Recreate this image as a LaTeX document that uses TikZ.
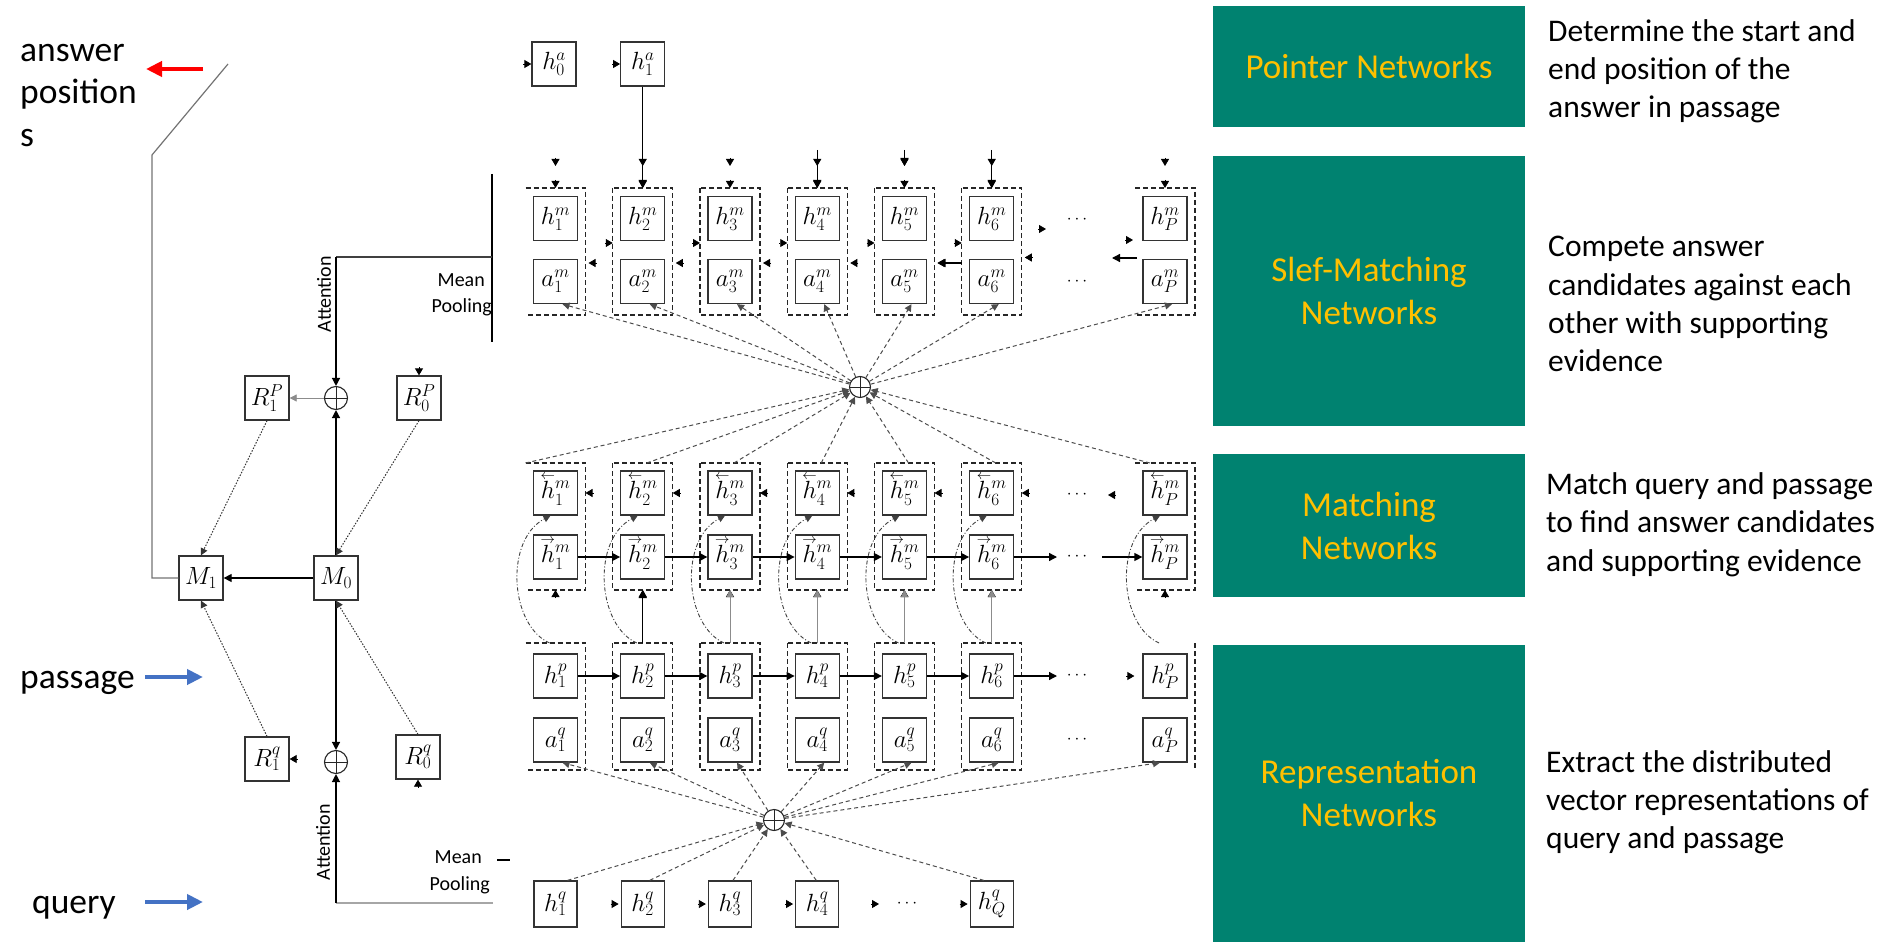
\documentclass[tikz,border=0pt]{standalone}
\usepackage{fontspec}
\usetikzlibrary{arrows.meta,calc}
\newfontfamily\calibri{Carlito}
\definecolor{netgreen}{HTML}{008270}
\definecolor{netgold}{HTML}{FFC000}
\definecolor{inblue}{HTML}{4472C4}
\definecolor{outred}{HTML}{FF0000}
% a lone arrow tip ending at #1, pointing in direction #2 (y axis points down)
\newcommand{\tipat}[2]{\draw[tipst] (#1) ++(#2+180:8) -- (#1);}
% small direction arrows over a letter, keeping the letter's height
\newcommand{\lvec}[1]{{\smash{\mathop{#1\kern0pt}\limits^{\scriptscriptstyle\leftarrow}}\vphantom{#1}}}
\newcommand{\rvec}[1]{{\smash{\mathop{#1\kern0pt}\limits^{\scriptscriptstyle\rightarrow}}\vphantom{#1}}}

\begin{document}
\begin{tikzpicture}[x=1pt,y=-1pt,
  cell/.style={draw=black!80, line width=1.3pt, fill=white, minimum width=44pt, minimum height=44pt, inner sep=0pt, font=\fontsize{27}{30}\selectfont},
  qcell/.style={cell, minimum width=43pt, minimum height=46pt},
  colframe/.style={minimum width=60pt, minimum height=127pt, inner sep=0pt, outer sep=0pt},
  colborder/.style={line width=1.3pt, dash pattern=on 5pt off 3pt, draw=black!85},
  tipst/.style={-{Triangle[length=7pt,width=8pt]}, line width=0.8pt},
  arr/.style={-{Triangle[length=8pt,width=8pt]}, line width=1.3pt},
  thinarr/.style={-{Triangle[length=7pt,width=7pt]}, line width=0.8pt, draw=black!45},
  attn/.style={-{Triangle[length=7pt,width=7pt]}, line width=1pt, dash pattern=on 4pt off 3pt, draw=black!70},
  dotarr/.style={-{Triangle[length=7pt,width=7pt]}, line width=1pt, dash pattern=on 1.5pt off 1.5pt, draw=black!80},
  curvarr/.style={-{Triangle[length=7pt,width=7pt]}, line width=0.9pt, dash pattern=on 4pt off 2pt on 1pt off 2pt, draw=black!75},
  oplus/.style={circle, draw=black!85, line width=1.1pt, fill=white, minimum size=22pt, inner sep=0pt,
    path picture={\draw[line width=0.8pt] (path picture bounding box.north) -- (path picture bounding box.south)
      (path picture bounding box.west) -- (path picture bounding box.east);}},
  dotsnode/.style={inner sep=0pt, font=\fontsize{16}{16}\selectfont},
  greenbox/.style={fill=netgreen, minimum width=312pt, inner sep=0pt, text=netgold, align=center, font=\calibri\fontsize{35}{43}\selectfont},
  desc/.style={anchor=base west, inner sep=0pt, font=\calibri\fontsize{31.5}{38}\selectfont},
  sidelabel/.style={anchor=base west, inner sep=0pt, font=\calibri\fontsize{35.5}{42}\selectfont},
  smalltxt/.style={inner sep=0pt, font=\calibri\fontsize{20}{22}\selectfont},
  bigarrow/.style={-{Triangle[length=16pt,width=15pt]}, line width=4.5pt},
]
\useasboundingbox (0,0) rectangle (1882,944);

% ---------- layer boxes and their descriptions ----------
\node[greenbox, minimum height=121pt] (gPointer) at (1369,66.5) {Pointer Networks};
\node[greenbox, minimum height=270pt] (gSelf) at (1369,291) {Slef-Matching\\Networks};
\node[greenbox, minimum height=143pt] (gMatch) at (1369,525.5) {Matching\\Networks};
\node[greenbox, minimum height=297pt] (gRepr) at (1369,793.5) {Representation\\Networks};

\node[desc] (dP1) at (1548,42) {Determine the start and};
\node[desc] (dP2) at (1548,80) {end position of the};
\node[desc] (dP3) at (1548,118) {answer in passage};
\node[desc] (dS1) at (1548,256) {Compete answer};
\node[desc] (dS2) at (1548,295) {candidates against each};
\node[desc] (dS3) at (1548,333) {other with supporting};
\node[desc] (dS4) at (1548,371) {evidence};
\node[desc] (dM1) at (1546,494) {Match query and passage};
\node[desc] (dM2) at (1546,532) {to find answer candidates};
\node[desc] (dM3) at (1546,571) {and supporting evidence};
\node[desc] (dR1) at (1546,772) {Extract the distributed};
\node[desc] (dR2) at (1546,810) {vector representations of};
\node[desc] (dR3) at (1546,848) {query and passage};

% ---------- side labels ----------
\node[sidelabel] (lAns1) at (20,62) {answer};
\node[sidelabel] (lAns2) at (20,104) {position};
\node[sidelabel] (lAns3) at (20,147) {s};
\node[sidelabel] (lPas) at (20,688) {passage};
\node[sidelabel] (lQue) at (32,913) {query};
\coordinate (redS) at (203,69);  \coordinate (redE) at (146,69);
\coordinate (bluePS) at (145,677); \coordinate (bluePE) at (203,677);
\coordinate (blueQS) at (145,902); \coordinate (blueQE) at (203,902);
\draw[bigarrow, outred] (redS) -- (redE);
\draw[bigarrow, inblue] (bluePS) -- (bluePE);
\draw[bigarrow, inblue] (blueQS) -- (blueQE);

% ---------- column frames and cells ----------
\foreach \i in {1,...,6} {
  \pgfmathsetmacro\cx{555.5+87.25*(\i-1)}
  \node[colframe] (sm\i) at (\cx,251.5) {};
  \node[cell] (hm\i) at (\cx,218.5) {$h^{m}_{\i}$};
  \node[cell] (am\i) at (\cx,281.5) {$a^{m}_{\i}$};
  \node[colframe] (mc\i) at (\cx,526.5) {};
  \node[cell] (hb\i) at (\cx,493) {$\lvec{h}^{m}_{\i}$};
  \node[cell] (hf\i) at (\cx,557) {$\rvec{h}^{m}_{\i}$};
  \node[colframe] (pc\i) at (\cx,706.5) {};
  \node[cell] (hp\i) at (\cx,676) {$h^{p}_{\i}$};
  \node[cell] (aq\i) at (\cx,740) {$a^{q}_{\i}$};
}
\node[colframe] (smP) at (1165,251.5) {};
\node[cell] (hmP) at (1165,218.5) {$h^{m}_{P}$};
\node[cell] (amP) at (1165,281.5) {$a^{m}_{P}$};
\node[colframe] (mcP) at (1165,526.5) {};
\node[cell] (hbP) at (1165,493) {$\lvec{h}^{m}_{P}$};
\node[cell] (hfP) at (1165,557) {$\rvec{h}^{m}_{P}$};
\node[colframe] (pcP) at (1165,706.5) {};
\node[cell] (hpP) at (1165,676) {$h^{p}_{P}$};
\node[cell] (aqP) at (1165,740) {$a^{q}_{P}$};

\foreach \i in {2,...,6} {
  \draw[colborder] (sm\i.north west) rectangle (sm\i.south east);
  \draw[colborder] (mc\i.north west) rectangle (mc\i.south east);
  \draw[colborder] (pc\i.north west) rectangle (pc\i.south east);
}
\foreach \c in {sm1,smP,mc1,mcP,pc1} {
  \draw[colborder] (\c.north west) -- (\c.north east) -- (\c.south east) -- (\c.south west);
}
\draw[colborder] (pcP.north east) -- (pcP.south east);

% ---------- pointer network inputs ----------
\node[cell] (ha0) at (554,64) {$h^{a}_{0}$};
\node[cell] (ha1) at (642.75,64) {$h^{a}_{1}$};
\tipat{ha0.west}{0}
\tipat{ha1.west}{0}
\draw[arr] (ha1) -- (sm2.north);
\coordinate (in4) at (817.25,150);
\coordinate (in5) at (904.5,150);
\coordinate (in6) at (991.75,150);
\draw[arr] (in4) -- (sm4.north);
\draw[arr] (in6) -- (sm6.north);
\draw[arr] (in5) -- ([yshift=22pt]sm5.north);
\foreach \i in {1,2,3,4,5,6,P} {
  \tipat{sm\i.north}{90}
  \tipat{[yshift=22pt]sm\i.north}{90}
}

% ---------- self-matching recurrence tips ----------
\foreach \i in {2,...,6} { \tipat{[yshift=8.5pt]sm\i.west}{0} }
\foreach \i in {1,...,5} { \tipat{[xshift=3pt,yshift=-11.5pt]sm\i.east}{180} }
\draw[arr] ([yshift=-11.5pt]sm6.west) -- ([xshift=3pt,yshift=-11.5pt]sm5.east);
\tipat{[xshift=3pt,yshift=-6pt]sm6.east}{180}
\coordinate (smOut) at (1046,229);
\tipat{smOut}{0}
\coordinate (smInP) at (1133,240);
\tipat{smInP}{0}
\coordinate (smBack) at (1112,258);
\draw[arr] ([xshift=2pt,yshift=-6.5pt]smP.west) -- (smBack);
\node[dotsnode] (dotsH) at (1077,220) {$\cdots$};
\node[dotsnode] (dotsA) at (1077,282) {$\cdots$};

% ---------- self-matching attention ----------
\node[oplus, minimum size=21pt] (opM) at (860,387) {};
\foreach \i in {1,2,3,4,5,6,P} { \draw[attn] (opM) -- ([xshift=7pt]am\i.south); }
\draw[attn] (mc1.north west) -- (opM);
\foreach \i in {2,...,6} { \draw[attn] ([xshift=4pt]mc\i.north) -- (opM); }
\draw[attn] ([xshift=-15pt]mcP.north) -- (opM);

% ---------- matching layer ----------
\foreach \i in {1,...,6} { \tipat{[yshift=33.5pt]mc\i.east}{180} }
\coordinate (hbInP) at (1108,495);
\tipat{hbInP}{180}
\node[dotsnode] (dotsHb) at (1077,495) {$\cdots$};
\node[dotsnode] (dotsHf) at (1077,557) {$\cdots$};
\foreach \i/\j in {1/2,2/3,3/4,4/5,5/6} { \draw[arr] (hf\i) -- (hf\j); }
\coordinate (hfOut) at (1057,557);
\coordinate (hfIn) at (1102,557);
\draw[arr] (hf6) -- (hfOut);
\draw[arr] (hfIn) -- (hfP);
\foreach \i in {1,2,3,4,5,6,P} {
  \tipat{mc\i.south}{270}
  \draw[curvarr] ([xshift=-6pt]pc\i.north) .. controls +(-40,-18) and +(-46,24) .. ([xshift=-5pt]hb\i.south);
}
\draw[arr] (pc2.north) -- (mc2.south);
\foreach \i in {3,...,6} { \draw[thinarr] (pc\i.north) -- (mc\i.south); }

% ---------- passage layer ----------
\foreach \i/\j in {1/2,2/3,3/4,4/5,5/6} { \draw[arr] (hp\i) -- (hp\j); }
\coordinate (hpOut) at (1057,676);
\draw[arr] (hp6) -- (hpOut);
\tipat{[xshift=-8pt]hpP.west}{0}
\node[dotsnode] (dotsHp) at (1077,676) {$\cdots$};
\node[dotsnode] (dotsAq) at (1077,740) {$\cdots$};

% ---------- question attention ----------
\node[oplus, minimum size=21pt] (opQ) at (774,820) {};
\foreach \i in {1,...,6} { \draw[attn] (opQ) -- ([xshift=7pt]aq\i.south); }
\draw[attn] (opQ) -- ([xshift=-5pt]aqP.south);

\node[qcell] (hq1) at (555.5,904) {$h^{q}_{1}$};
\node[qcell] (hq2) at (642.75,904) {$h^{q}_{2}$};
\node[qcell] (hq3) at (730,904) {$h^{q}_{3}$};
\node[qcell] (hq4) at (817.25,904) {$h^{q}_{4}$};
\node[qcell] (hqQ) at (991.75,904) {$h^{q}_{Q}$};
\node[dotsnode] (dotsQ) at (907,904) {$\cdots$};
\foreach \k in {2,3,4,Q} { \tipat{[xshift=-2pt]hq\k.west}{0} }
\coordinate (hqMid) at (879,904);
\tipat{hqMid}{0}
\draw[attn] ([xshift=12pt]hq1.north) -- (opQ);
\draw[attn] ([xshift=7pt]hq2.north) -- (opQ);
\draw[attn] ([xshift=3pt]hq3.north) -- (opQ);
\draw[attn] ([xshift=-1pt]hq4.north) -- (opQ);
\draw[attn] ([xshift=-8pt]hqQ.north) -- (opQ);

% ---------- answer pointer initialisation ----------
\node[cell] (R1P) at (267,398) {$R^{P}_{1}$};
\node[oplus, minimum size=23pt] (opT) at (336,398) {};
\node[cell] (R0P) at (419,398) {$R^{P}_{0}$};
\node[cell] (M1) at (201,578) {$M_{1}$};
\node[cell] (M0) at (336,578) {$M_{0}$};
\node[cell] (R1q) at (267,759) {$R^{q}_{1}$};
\node[oplus, minimum size=23pt] (opB) at (336,762) {};
\node[cell] (R0q) at (418,757) {$R^{q}_{0}$};

\draw[arr] (M0) -- (M1);
\draw[arr] (M0) -- (opT);
\draw[arr] (M0) -- (opB);
\draw[thinarr] (opT) -- (R1P);
\tipat{R0P.north}{90}
\tipat{R1q.east}{180}
\tipat{R0q.south}{270}
\draw[dotarr] (R1P.south) -- (M1.north);
\draw[dotarr] (R0P.south) -- (M0.north);
\draw[dotarr] (R1q.north) -- (M1.south);
\draw[dotarr] (R0q.north) -- (M0.south);

% pooled self-matching output
\coordinate (poolTopA) at (492,174);
\coordinate (poolTopB) at (492,342);
\coordinate (poolTopM) at (492,257);
\coordinate (poolTopC) at (336,257);
\draw[line width=1.3pt] (poolTopA) -- (poolTopB);
\draw[line width=1.2pt, black!75] (poolTopM) -- (poolTopC);
\draw[arr] (poolTopC) -- (opT);
\node[smalltxt, anchor=base east] (meanT) at (485,286) {Mean};
\node[smalltxt, anchor=base east] (poolT) at (492,312) {Pooling};
\node[smalltxt, rotate=90] (attT) at (324,294) {Attention};

% pooled question output
\coordinate (poolBotR) at (493,903);
\coordinate (poolBotC) at (336,903);
\draw[line width=1.2pt, black!35] (poolBotR) -- (poolBotC);
\draw[arr] (poolBotC) -- (opB);
\node[smalltxt, anchor=base east] (meanB) at (482,863) {Mean};
\node[smalltxt, anchor=base east] (poolB) at (490,890) {Pooling};
\node[smalltxt, rotate=90] (attB) at (323,842) {Attention};
\draw[line width=1.2pt] (497,860) -- (510,860);

% answer positions read-out
\coordinate (ansBend) at (152,155);
\coordinate (ansEnd) at (228,64);
\draw[black!55, line width=1.2pt] (M1.west) -| (ansBend) -- (ansEnd);
\end{tikzpicture}
\end{document}
